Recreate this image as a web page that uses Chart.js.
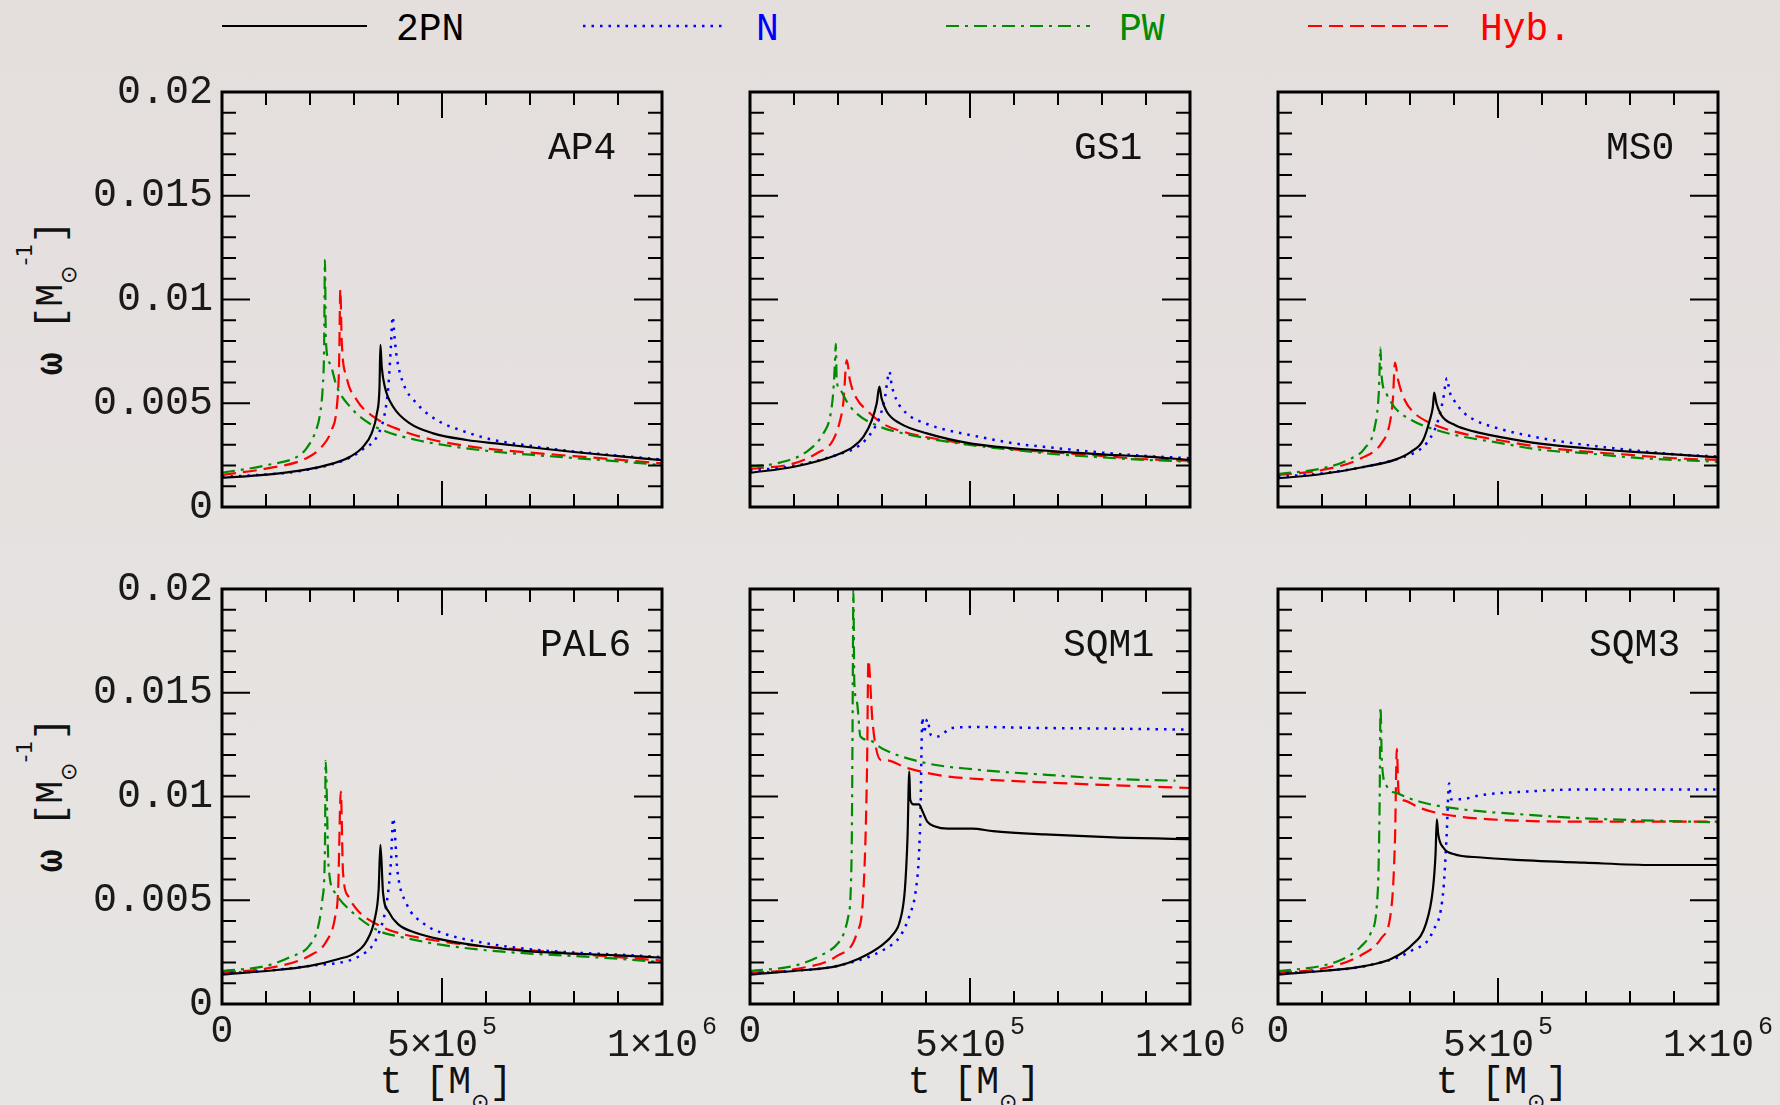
<!DOCTYPE html>
<html>
<head>
<meta charset="utf-8">
<title>omega(t) for six equations of state</title>
<script src="https://cdn.jsdelivr.net/npm/chart.js@4.4.1/dist/chart.umd.min.js"></script>
<style>
  body {
    margin: 0; width: 1780px; height: 1105px; overflow: hidden; position: relative;
    background: linear-gradient(#e4dedd, #e7e5e3);
    font-family: "Liberation Mono", "DejaVu Sans Mono", monospace; color: #111;
  }
  canvas { position: absolute; left: 0; top: 0; }
  .lbl { position: absolute; font-size: 38px; line-height: 38px; white-space: pre; }
  .ytitle { position: absolute; left: 53px; font-size: 38px; line-height: 38px; white-space: pre;
            transform: translate(-50%, -50%) rotate(-90deg); }
  .xtitle { position: absolute; top: 1064px; font-size: 38px; line-height: 38px; white-space: pre;
            transform: translateX(-50%); }
  .sm { position: relative; font-size: 22px; font-family: "DejaVu Sans", sans-serif; }
  .om { font-weight: bold; }
</style>
</head>
<body>

<svg style="position:absolute;left:0;top:16px" width="1780" height="20">
  <line x1="222" y1="10" x2="367" y2="10" stroke="#000000" stroke-width="2.2"/>
  <line x1="583" y1="10" x2="727" y2="10" stroke="#0000ff" stroke-width="2.5" stroke-dasharray="2.5 6"/>
  <line x1="946" y1="10" x2="1090" y2="10" stroke="#008c00" stroke-width="2.2" stroke-dasharray="13 6 3 6"/>
  <line x1="1308" y1="10" x2="1453" y2="10" stroke="#ff0000" stroke-width="2.2" stroke-dasharray="14 7"/>
</svg>
<div class="lbl" style="left:396px;top:11px;color:#000">2PN</div>
<div class="lbl" style="left:756px;top:11px;color:#0000ff">N</div>
<div class="lbl" style="left:1119px;top:11px;color:#008c00">PW</div>
<div class="lbl" style="left:1480px;top:11px;color:#ff0000">Hyb.</div>

<div class="ytitle" style="top:298px"><span class="om">ω</span> [M<span class="sm" style="top:14px">⊙</span><span class="sm" style="top:-30px">-1</span>]</div>
<div class="ytitle" style="top:795px"><span class="om">ω</span> [M<span class="sm" style="top:14px">⊙</span><span class="sm" style="top:-30px">-1</span>]</div>
<div class="xtitle" style="left:446px">t [M<span class="sm" style="top:16px">⊙</span>]</div>
<div class="xtitle" style="left:974px">t [M<span class="sm" style="top:16px">⊙</span>]</div>
<div class="xtitle" style="left:1502px">t [M<span class="sm" style="top:16px">⊙</span>]</div>

<script>
// series, in the order of the legend
var seriesNames = ['2PN', 'N', 'PW', 'Hyb.'];
var seriesColors = ['#000000', '#0000ff', '#008c00', '#ff0000'];
var seriesDash = [[], [2.5, 6], [13, 6, 3, 6], [14, 7]];

var panelNames = ['AP4', 'GS1', 'MS0', 'PAL6', 'SQM1', 'SQM3'];

// x tick labels (bottom row): base text and exponent
var xLabelValues = [0, 5e5, 1e6];
var xLabelBase = ['0', '5×10', '1×10'];
var xLabelSup = ['', '5', '6'];

// AP4
var ap4_2pn_t = [0, 1e5, 1.77e5, 2.53e5, 2.91e5, 3.21e5, 3.4e5, 3.52e5, 3.58e5, 3.6e5, 3.63e5, 3.7e5, 3.89e5, 4.27e5, 4.8e5, 5.56e5, 6.32e5, 7e5, 8e5, 9e5, 1e6];
var ap4_2pn_w = [0.0014, 0.00156, 0.00175, 0.0021, 0.00242, 0.00291, 0.00355, 0.00451, 0.0058, 0.00781, 0.00676, 0.0058, 0.00483, 0.00403, 0.00355, 0.00323, 0.00304, 0.00288, 0.00265, 0.00245, 0.00226];
var ap4_n_t = [0, 1e5, 1.77e5, 2.91e5, 3.21e5, 3.52e5, 3.7e5, 3.78e5, 3.83e5, 3.88e5, 3.92e5, 3.97e5, 4.12e5, 4.42e5, 4.88e5, 5.41e5, 6.17e5, 7e5, 8e5, 9e5, 1e6];
var ap4_n_w = [0.00145, 0.00157, 0.00173, 0.00238, 0.0028, 0.00339, 0.00451, 0.0058, 0.00741, 0.00917, 0.00821, 0.00724, 0.00596, 0.005, 0.00419, 0.00371, 0.00323, 0.00295, 0.00268, 0.00248, 0.00229];
var ap4_pw_t = [0, 1e5, 1.77e5, 1.92e5, 2.11e5, 2.23e5, 2.29e5, 2.32e5, 2.34e5, 2.36e5, 2.45e5, 2.61e5, 2.91e5, 3.29e5, 3.74e5, 4.42e5, 5.18e5, 6.17e5, 7e5, 8e5, 9e5, 1e6];
var ap4_pw_w = [0.00165, 0.00201, 0.0025, 0.00283, 0.00355, 0.00451, 0.0058, 0.00757, 0.0119, 0.00805, 0.00693, 0.0058, 0.00483, 0.00411, 0.00363, 0.00323, 0.00294, 0.00267, 0.00252, 0.00236, 0.0022, 0.00202];
var ap4_hyb_t = [0, 1e5, 1.92e5, 2.27e5, 2.49e5, 2.61e5, 2.66e5, 2.69e5, 2.72e5, 2.83e5, 3.06e5, 3.44e5, 4.05e5, 4.8e5, 5.56e5, 6.17e5, 7e5, 8e5, 9e5, 1e6];
var ap4_hyb_w = [0.00155, 0.00185, 0.00235, 0.00291, 0.00371, 0.00483, 0.00676, 0.01049, 0.00805, 0.00628, 0.00516, 0.00435, 0.00371, 0.00323, 0.00294, 0.00278, 0.00262, 0.00245, 0.00228, 0.0021];

// GS1
var gs1_2pn_t = [0, 1e5, 1.97e5, 2.35e5, 2.58e5, 2.77e5, 2.88e5, 2.94e5, 2.99e5, 3.11e5, 3.41e5, 4.02e5, 5e5, 6e5, 7e5, 8e5, 9e5, 1e6];
var gs1_2pn_w = [0.00165, 0.00194, 0.00251, 0.00291, 0.00339, 0.00419, 0.005, 0.0058, 0.00524, 0.00459, 0.00403, 0.00355, 0.00307, 0.00283, 0.00267, 0.00254, 0.00243, 0.00227];
var gs1_n_t = [0, 1e5, 1.97e5, 2.5e5, 2.8e5, 2.95e5, 3.07e5, 3.13e5, 3.17e5, 3.22e5, 3.33e5, 3.56e5, 4.02e5, 4.47e5, 5e5, 6e5, 7e5, 8e5, 9e5, 1e6];
var gs1_n_w = [0.00175, 0.00198, 0.00251, 0.00299, 0.00371, 0.00435, 0.00532, 0.0062, 0.00652, 0.00588, 0.00516, 0.00451, 0.004, 0.00371, 0.00347, 0.00307, 0.00283, 0.00262, 0.00246, 0.00235];
var gs1_pw_t = [0, 0.68e5, 1.29e5, 1.67e5, 1.82e5, 1.89e5, 1.93e5, 1.95e5, 1.97e5, 2.05e5, 2.2e5, 2.42e5, 2.95e5, 3.48e5, 4.02e5, 5e5, 6e5, 7e5, 8e5, 9e5, 1e6];
var gs1_pw_w = [0.00194, 0.00214, 0.00267, 0.00355, 0.00435, 0.00548, 0.00692, 0.00786, 0.00612, 0.00564, 0.00508, 0.00451, 0.00387, 0.00355, 0.00331, 0.00299, 0.00275, 0.00254, 0.00239, 0.00227, 0.00218];
var gs1_hyb_t = [0, 1e5, 1.52e5, 1.89e5, 2.05e5, 2.12e5, 2.2e5, 2.27e5, 2.42e5, 2.65e5, 3.03e5, 3.48e5, 4.02e5, 5e5, 6e5, 7e5, 8e5, 9e5, 1e6];
var gs1_hyb_w = [0.00183, 0.0021, 0.00259, 0.00323, 0.00419, 0.005, 0.00708, 0.00612, 0.00524, 0.00467, 0.004, 0.00363, 0.00336, 0.00304, 0.00278, 0.00262, 0.00246, 0.0023, 0.00223];

// MS0
var ms0_2pn_t = [0, 1e5, 1.97e5, 2.65e5, 3.03e5, 3.3e5, 3.45e5, 3.52e5, 3.55e5, 3.6e5, 3.71e5, 4.02e5, 4.47e5, 5e5, 6e5, 7e5, 8e5, 9e5, 1e6];
var ms0_2pn_w = [0.00138, 0.00159, 0.00194, 0.00227, 0.00267, 0.00323, 0.00419, 0.00484, 0.00551, 0.005, 0.00443, 0.00395, 0.00363, 0.00339, 0.00304, 0.00283, 0.00267, 0.00254, 0.00239];
var ms0_n_t = [0, 1e5, 1.97e5, 2.88e5, 3.26e5, 3.48e5, 3.64e5, 3.75e5, 3.84e5, 3.9e5, 4.02e5, 4.24e5, 4.47e5, 5e5, 6e5, 7e5, 8e5, 9e5, 1e6];
var ms0_n_w = [0.00146, 0.00162, 0.00194, 0.00243, 0.00283, 0.00339, 0.00419, 0.00516, 0.0062, 0.00556, 0.00508, 0.00451, 0.00419, 0.00379, 0.00331, 0.00299, 0.00275, 0.00254, 0.00243];
var ms0_pw_t = [0, 1e5, 1.59e5, 1.97e5, 2.2e5, 2.29e5, 2.33e5, 2.35e5, 2.46e5, 2.65e5, 3.03e5, 3.48e5, 4.02e5, 5e5, 6e5, 7e5, 8e5, 9e5, 1e6];
var ms0_pw_w = [0.00159, 0.00186, 0.00227, 0.00283, 0.00387, 0.00548, 0.00768, 0.00644, 0.00548, 0.0048, 0.00419, 0.00379, 0.00347, 0.0031, 0.00275, 0.00259, 0.00239, 0.00227, 0.00218];
var ms0_hyb_t = [0, 1e5, 1.89e5, 2.35e5, 2.54e5, 2.61e5, 2.66e5, 2.73e5, 2.88e5, 3.11e5, 3.48e5, 4.02e5, 5e5, 6e5, 7e5, 8e5, 9e5, 1e6];
var ms0_hyb_w = [0.00154, 0.00178, 0.00235, 0.00307, 0.00403, 0.00516, 0.00696, 0.00612, 0.00516, 0.00451, 0.00403, 0.00363, 0.00323, 0.00288, 0.00267, 0.00251, 0.00235, 0.00227];

// PAL6
var pal6_2pn_t = [0, 1e5, 2e5, 2.67e5, 3e5, 3.28e5, 3.48e5, 3.56e5, 3.6e5, 3.66e5, 3.79e5, 4e5, 4.4e5, 5e5, 6e5, 7e5, 8e5, 9e5, 1e6];
var pal6_2pn_w = [0.00142, 0.00159, 0.00184, 0.00218, 0.00243, 0.00301, 0.00418, 0.00552, 0.00767, 0.00536, 0.00444, 0.00385, 0.00343, 0.0031, 0.00276, 0.00254, 0.00243, 0.00234, 0.00223];
var pal6_n_t = [0, 1e5, 2e5, 3.28e5, 3.58e5, 3.74e5, 3.84e5, 3.89e5, 3.99e5, 4.19e5, 4.6e5, 5e5, 6e5, 7e5, 8e5, 9e5, 1e6];
var pal6_n_w = [0.00147, 0.0016, 0.00184, 0.00251, 0.00351, 0.00485, 0.00686, 0.00895, 0.00636, 0.00485, 0.00385, 0.00343, 0.00293, 0.00264, 0.00248, 0.00238, 0.00226];
var pal6_pw_t = [0, 1e5, 1.55e5, 2e5, 2.18e5, 2.28e5, 2.34e5, 2.355e5, 2.42e5, 2.57e5, 3e5, 3.58e5, 4e5, 5e5, 6e5, 7e5, 8e5, 9e5, 1e6];
var pal6_pw_w = [0.00159, 0.00184, 0.00226, 0.00285, 0.00368, 0.00502, 0.00753, 0.01172, 0.0067, 0.00536, 0.00435, 0.00351, 0.00326, 0.00285, 0.00259, 0.00243, 0.00231, 0.00218, 0.00201];
var pal6_hyb_t = [0, 1e5, 2e5, 2.37e5, 2.57e5, 2.64e5, 2.7e5, 2.75e5, 2.87e5, 3.08e5, 3.58e5, 4e5, 5e5, 6e5, 7e5, 8e5, 9e5, 1e6];
var pal6_hyb_w = [0.00151, 0.00171, 0.00234, 0.00301, 0.00418, 0.00552, 0.01024, 0.00636, 0.00519, 0.00452, 0.00377, 0.00343, 0.00301, 0.00276, 0.00259, 0.00243, 0.00226, 0.00209];

// SQM1
var sqm1_2pn_t = [0, 1e5, 2e5, 2.47e5, 3.01e5, 3.25e5, 3.41e5, 3.52e5, 3.58e5, 3.62e5, 3.64e5, 3.72e5, 3.84e5, 3.92e5, 4.03e5, 4.19e5, 4.5e5, 5.05e5, 5.52e5, 6.7e5, 8.26e5, 1e6];
var sqm1_2pn_w = [0.00142, 0.00159, 0.00184, 0.00218, 0.00285, 0.00335, 0.00402, 0.00552, 0.00803, 0.01121, 0.00987, 0.00962, 0.00962, 0.00929, 0.00879, 0.00857, 0.00845, 0.00845, 0.00833, 0.00817, 0.00803, 0.00795];
var sqm1_n_t = [0, 1e5, 2e5, 3.09e5, 3.41e5, 3.64e5, 3.76e5, 3.84e5, 3.88e5, 3.9e5, 3.92e5, 3.95e5, 4.03e5, 4.11e5, 4.27e5, 4.58e5, 5.13e5, 6.7e5, 8.26e5, 1e6];
var sqm1_n_w = [0.00147, 0.0016, 0.00184, 0.00268, 0.00326, 0.00435, 0.00536, 0.0072, 0.00971, 0.01255, 0.01381, 0.01305, 0.01372, 0.01297, 0.01289, 0.0133, 0.01335, 0.0133, 0.01327, 0.01322];
var sqm1_pw_t = [0, 1e5, 1.61e5, 2e5, 2.23e5, 2.31e5, 2.33e5, 2.35e5, 2.37e5, 2.43e5, 2.51e5, 2.7e5, 3.01e5, 3.95e5, 5.13e5, 6.7e5, 8.26e5, 9.67e5];
var sqm1_pw_w = [0.00159, 0.00184, 0.00234, 0.00293, 0.00418, 0.0072, 0.01305, 0.0199, 0.01556, 0.01456, 0.01289, 0.01272, 0.0123, 0.01163, 0.0113, 0.01105, 0.01085, 0.01076];
var sqm1_hyb_t = [0, 1e5, 2e5, 2.43e5, 2.58e5, 2.66e5, 2.69e5, 2.78e5, 2.86e5, 2.98e5, 3.09e5, 3.56e5, 4.35e5, 5.13e5, 6.7e5, 8.26e5, 1e6];
var sqm1_hyb_w = [0.00151, 0.00167, 0.00234, 0.00343, 0.00552, 0.01138, 0.01657, 0.01372, 0.01238, 0.01175, 0.01175, 0.01138, 0.01101, 0.01085, 0.01068, 0.01054, 0.01041];

// SQM3
var sqm3_2pn_t = [0, 1e5, 2e5, 2.58e5, 3.05e5, 3.36e5, 3.52e5, 3.58e5, 3.61e5, 3.64e5, 3.76e5, 3.99e5, 4.62e5, 5.4e5, 6.96e5, 8.53e5, 1e6];
var sqm3_2pn_w = [0.00142, 0.00159, 0.00184, 0.00218, 0.00285, 0.00385, 0.00552, 0.0072, 0.0089, 0.0082, 0.00753, 0.00723, 0.00706, 0.00695, 0.00681, 0.0067, 0.0067];
var sqm3_n_t = [0, 1e5, 2e5, 3.05e5, 3.52e5, 3.76e5, 3.83e5, 3.89e5, 3.93e5, 4.15e5, 4.62e5, 5.4e5, 6.96e5, 8.53e5, 1e6];
var sqm3_n_w = [0.00147, 0.0016, 0.00184, 0.00259, 0.00351, 0.00552, 0.00803, 0.01063, 0.00987, 0.00987, 0.01007, 0.01021, 0.01034, 0.01034, 0.01034];
var sqm3_pw_t = [0, 1e5, 1.49e5, 1.88e5, 2.11e5, 2.27e5, 2.31e5, 2.33e5, 2.36e5, 2.46e5, 2.74e5, 3.29e5, 4.23e5, 5.4e5, 6.96e5, 1e6];
var sqm3_pw_w = [0.00159, 0.00184, 0.00218, 0.00276, 0.00343, 0.00552, 0.00971, 0.01431, 0.01172, 0.01054, 0.01013, 0.00971, 0.00937, 0.00916, 0.00895, 0.00875];
var sqm3_hyb_t = [0, 1e5, 1.88e5, 2.35e5, 2.58e5, 2.66e5, 2.7e5, 2.74e5, 2.9e5, 3.21e5, 3.83e5, 5.4e5, 6.96e5, 1e6];
var sqm3_hyb_w = [0.00151, 0.00171, 0.00234, 0.00318, 0.00469, 0.00803, 0.0123, 0.01021, 0.00979, 0.00946, 0.00912, 0.00884, 0.00879, 0.00879];

var panelSeries = [
    [[ap4_2pn_t, ap4_2pn_w], [ap4_n_t, ap4_n_w], [ap4_pw_t, ap4_pw_w], [ap4_hyb_t, ap4_hyb_w]],
    [[gs1_2pn_t, gs1_2pn_w], [gs1_n_t, gs1_n_w], [gs1_pw_t, gs1_pw_w], [gs1_hyb_t, gs1_hyb_w]],
    [[ms0_2pn_t, ms0_2pn_w], [ms0_n_t, ms0_n_w], [ms0_pw_t, ms0_pw_w], [ms0_hyb_t, ms0_hyb_w]],
    [[pal6_2pn_t, pal6_2pn_w], [pal6_n_t, pal6_n_w], [pal6_pw_t, pal6_pw_w], [pal6_hyb_t, pal6_hyb_w]],
    [[sqm1_2pn_t, sqm1_2pn_w], [sqm1_n_t, sqm1_n_w], [sqm1_pw_t, sqm1_pw_w], [sqm1_hyb_t, sqm1_hyb_w]],
    [[sqm3_2pn_t, sqm3_2pn_w], [sqm3_n_t, sqm3_n_w], [sqm3_pw_t, sqm3_pw_w], [sqm3_hyb_t, sqm3_hyb_w]]
];

// page layout of the plot boxes
var colLeft = [222, 750, 1278];
var rowTop = [92, 589];
var plotW = 440, plotH = 415;
var nameLeft = [326, 324, 328, 318, 313, 311];
var pageW = 1780, pageH = 1105;

// frame with inward ticks on all four sides, plus the x labels of the bottom row
var frameTicks = {
    id: 'frameTicks',
    afterDatasetsDraw: function(chart, args, opts) {
        var ctx = chart.ctx, a = chart.chartArea;
        var x = chart.scales.x, y = chart.scales.y;
        ctx.save();
        ctx.strokeStyle = '#000';
        ctx.lineWidth = 2;
        ctx.beginPath();
        for (var i = 1; i < 20; i++) {
            var py = y.getPixelForValue(i * 0.001);
            var ly = i % 5 === 0 ? 28 : 14;
            ctx.moveTo(a.left, py); ctx.lineTo(a.left + ly, py);
            ctx.moveTo(a.right, py); ctx.lineTo(a.right - ly, py);
        }
        for (var j = 1; j < 10; j++) {
            var px = x.getPixelForValue(j * 1e5);
            var lx = j === 5 ? 26 : 13;
            ctx.moveTo(px, a.bottom); ctx.lineTo(px, a.bottom - lx);
            ctx.moveTo(px, a.top); ctx.lineTo(px, a.top + lx);
        }
        ctx.stroke();
        ctx.lineWidth = 3;
        ctx.strokeRect(a.left, a.top, a.right - a.left, a.bottom - a.top);

        if (opts.xLabels) {
            ctx.fillStyle = '#1a1a1a';
            ctx.textBaseline = 'alphabetic';
            ctx.textAlign = 'left';
            xLabelValues.forEach(function(v, k) {
                var cx = x.getPixelForValue(v);
                ctx.font = '38px "Liberation Mono"';
                var wb = ctx.measureText(xLabelBase[k]).width;
                if (!xLabelSup[k]) {
                    ctx.fillText(xLabelBase[k], cx - wb / 2, a.bottom + 38);
                    return;
                }
                ctx.font = '25px "Liberation Mono"';
                var ws = ctx.measureText(xLabelSup[k]).width;
                var x0 = cx - (wb + 4 + ws) / 2;
                ctx.font = '38px "Liberation Mono"';
                ctx.fillText(xLabelBase[k], x0, a.bottom + 52);
                ctx.font = '25px "Liberation Mono"';
                ctx.fillText(xLabelSup[k], x0 + wb + 4, a.bottom + 30);
            });
        }
        ctx.restore();
    }
};

panelSeries.forEach(function(series, p) {
    var row = Math.floor(p / 3), col = p % 3;
    var left = colLeft[col], top = rowTop[row];

    var canvas = document.createElement('canvas');
    canvas.width = pageW;
    canvas.height = pageH;
    document.body.appendChild(canvas);

    var label = document.createElement('div');
    label.className = 'lbl';
    label.textContent = panelNames[p];
    label.style.left = (left + nameLeft[p]) + 'px';
    label.style.top = (top + 38) + 'px';
    document.body.appendChild(label);

    var yAxis = {
        min: 0, max: 0.02,
        display: col === 0,
        grid: { display: false, drawTicks: false },
        border: { display: false },
        ticks: {
            stepSize: 0.005,
            padding: 9,
            color: '#1a1a1a',
            font: { family: 'Liberation Mono', size: 40 },
            callback: function(v) { return String(+v.toFixed(3)); }
        }
    };
    if (col === 0) {
        yAxis.afterFit = function(scale) { scale.width = left; };
    }

    new Chart(canvas, {
        type: 'line',
        data: {
            datasets: series.map(function(s, i) {
                return {
                    label: seriesNames[i],
                    data: s[0].map(function(t, k) { return { x: t, y: s[1][k] }; }),
                    borderColor: seriesColors[i],
                    borderDash: seriesDash[i],
                    borderWidth: i === 1 ? 2.5 : 2.2,
                    pointRadius: 0,
                    cubicInterpolationMode: 'monotone',
                    fill: false
                };
            })
        },
        options: {
            responsive: false,
            animation: false,
            devicePixelRatio: 1,
            layout: {
                padding: {
                    left: col === 0 ? 0 : left,
                    top: top,
                    right: pageW - left - plotW,
                    bottom: pageH - top - plotH
                }
            },
            scales: {
                x: { type: 'linear', min: 0, max: 1e6, display: false },
                y: yAxis
            },
            plugins: {
                legend: { display: false },
                tooltip: { enabled: false },
                frameTicks: { xLabels: row === 1 }
            }
        },
        plugins: [frameTicks]
    });
});
</script>
</body>
</html>
